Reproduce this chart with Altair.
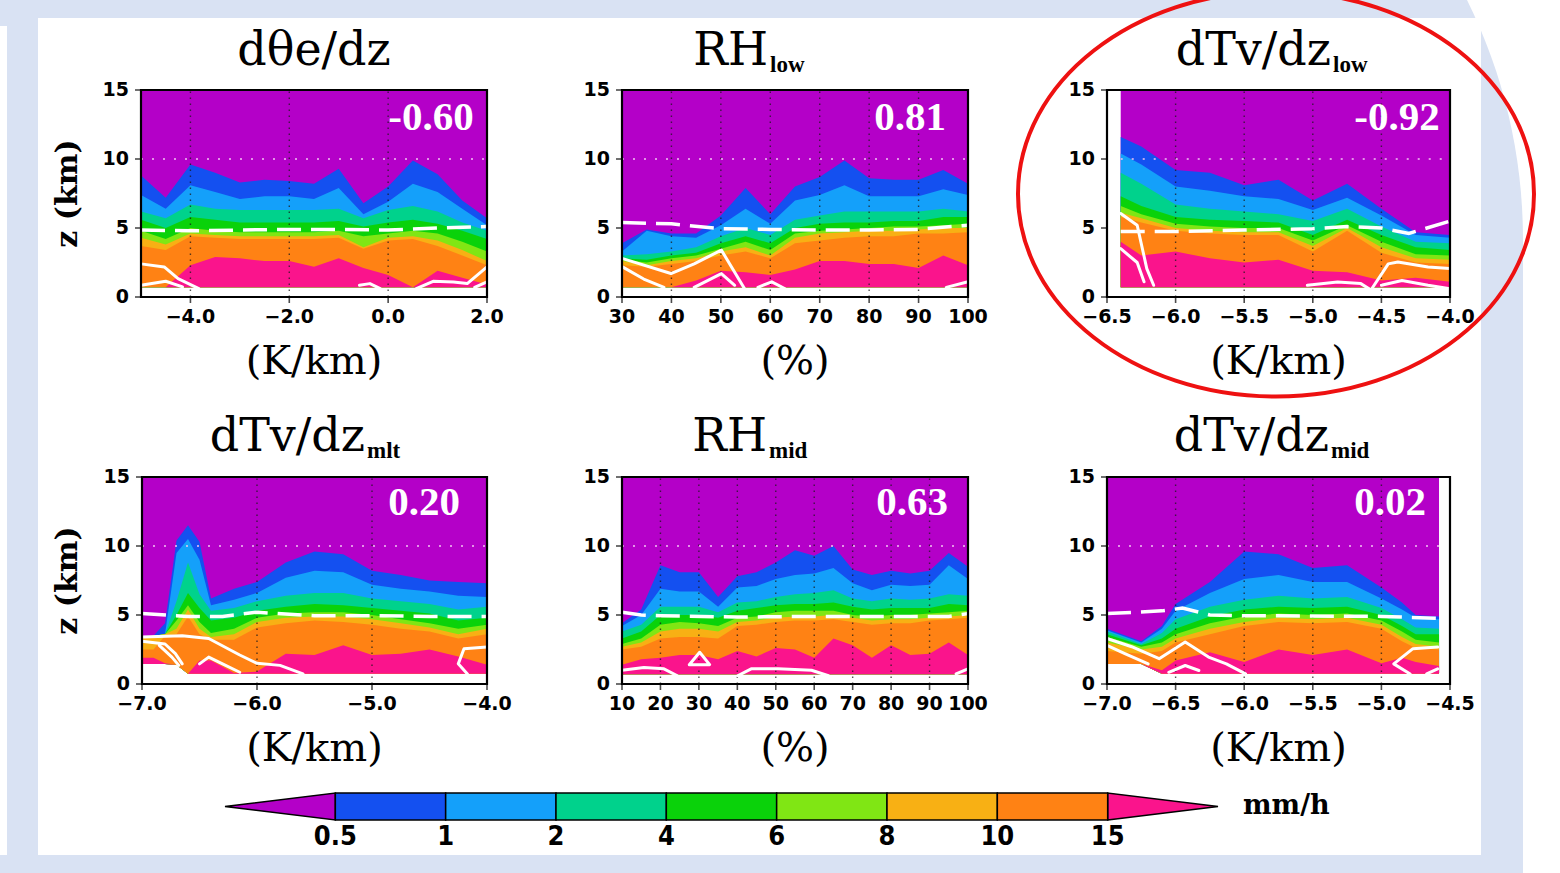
import altair as alt
import pandas as pd

W, H = 1560, 873
LIGHT = "#d9e2f3"
PURPLE = "#b400c8"
BAND_COLORS = ["#1450f0", "#14a0fa", "#00d28c", "#0ad20a", "#80e614", "#f8b014", "#ff8214", "#fa148c"]
LEVEL_KEYS = ["L05", "L1", "L2", "L4", "L6", "L8", "L10", "L15"]
CB_LABELS = ["0.5", "1", "2", "4", "6", "8", "10", "15"]
CB_INDEX = [0, 1, 2, 3, 4, 5, 6, 7]
Y_TICKS = [0, 5, 10, 15]
Y_LABELS = ["0", "5", "10", "15"]

# ---------------- panel 1 : dθe/dz ----------------
P1_X = [-5, -4.5, -4, -3.5, -3, -2.5, -2, -1.5, -1, -0.5, 0, 0.5, 1, 1.5, 2]
P1_BASE = [0.7, 0.7, 0.7, 0.7, 0.7, 0.7, 0.7, 0.7, 0.7, 0.7, 0.7, 0.7, 0.7, 0.7, 0.7]
P1_L05 = [8.8, 7.2, 9.6, 9.0, 8.3, 8.5, 8.4, 8.2, 9.3, 6.8, 8.0, 9.9, 8.9, 7.0, 5.7]
P1_L1 = [7.4, 6.4, 8.1, 7.6, 7.1, 7.3, 7.3, 7.1, 7.9, 6.0, 6.9, 8.2, 7.6, 6.4, 5.2]
P1_L2 = [6.2, 5.7, 6.7, 6.4, 6.3, 6.3, 6.3, 6.3, 6.4, 5.7, 6.3, 6.6, 6.2, 5.4, 4.8]
P1_L4 = [5.6, 5.0, 5.8, 5.6, 5.4, 5.4, 5.4, 5.4, 5.5, 5.1, 5.4, 5.6, 5.3, 4.8, 4.2]
P1_L6 = [4.8, 4.2, 5.0, 4.8, 4.7, 4.7, 4.7, 4.7, 4.8, 4.4, 4.6, 4.8, 4.6, 4.0, 3.3]
P1_L8 = [4.3, 3.8, 4.6, 4.5, 4.4, 4.4, 4.4, 4.4, 4.5, 3.6, 4.3, 4.4, 4.1, 3.4, 2.6]
P1_L10 = [3.7, 3.4, 4.4, 4.3, 4.2, 4.2, 4.2, 4.2, 4.3, 3.5, 4.1, 4.2, 3.7, 3.0, 2.3]
P1_L15 = [0.7, 0.7, 2.3, 2.9, 2.8, 2.6, 2.6, 2.2, 2.8, 2.1, 1.6, 0.7, 1.9, 1.4, 0.9]
P1_FX = [-5, -4, -3, -2, -1, 0, 1, 2]
P1_FZ = [4.85, 4.8, 4.85, 4.9, 4.9, 4.85, 5.0, 5.1]
P1_CONT = [
    [(-5, 2.4), (-4.53, 2.18), (-4.25, 1.33), (-3.83, 0.6)],
    [(-5, 0.85), (-4.5, 1.14), (-4.16, 0.73)],
    [(-0.58, 0.85), (-0.37, 0.97), (-0.16, 0.6)],
    [(0.57, 0.6), (0.91, 1.14), (1.32, 1.09), (1.6, 0.97), (2.0, 2.18)],
    [(1.75, 0.7), (2.0, 1.1)],
]
P1_XT = [-4, -2, 0, 2]
P1_XL = ["−4.0", "−2.0", "0.0", "2.0"]

# ---------------- panel 2 : RH low ----------------
P2_X = [30, 35, 40, 45, 50, 55, 60, 65, 70, 75, 80, 85, 90, 95, 100]
P2_BASE = [0.7, 0.7, 0.7, 0.7, 0.7, 0.7, 0.7, 0.7, 0.7, 0.7, 0.7, 0.7, 0.7, 0.7, 0.7]
P2_L05 = [3.9, 4.9, 4.6, 4.6, 5.9, 7.9, 6.0, 8.0, 8.7, 9.9, 8.6, 8.5, 8.5, 9.2, 8.2]
P2_L1 = [3.3, 4.8, 4.4, 4.3, 5.2, 6.4, 5.3, 7.0, 7.4, 8.1, 7.3, 7.3, 7.3, 7.8, 7.4]
P2_L2 = [3.0, 3.1, 3.3, 3.6, 4.4, 5.0, 4.5, 5.6, 5.9, 6.2, 6.2, 6.2, 6.2, 6.4, 6.2]
P2_L4 = [2.8, 2.7, 3.0, 3.2, 3.9, 4.4, 3.9, 5.0, 5.3, 5.4, 5.4, 5.5, 5.5, 5.8, 5.8]
P2_L6 = [2.7, 2.5, 2.8, 3.0, 3.5, 4.0, 3.4, 4.6, 4.8, 4.9, 5.0, 5.1, 5.1, 5.2, 5.3]
P2_L8 = [2.6, 2.3, 2.6, 2.8, 3.3, 3.6, 3.0, 4.3, 4.6, 4.7, 4.8, 4.8, 4.9, 5.0, 5.0]
P2_L10 = [2.3, 2.2, 2.4, 2.6, 3.0, 3.3, 2.8, 3.9, 4.1, 4.3, 4.4, 4.4, 4.6, 4.6, 4.7]
P2_L15 = [0.7, 0.7, 0.7, 1.2, 1.9, 1.8, 1.6, 2.0, 2.6, 2.6, 2.4, 2.4, 2.1, 3.0, 2.3]
P2_FX = [30, 40, 50, 60, 70, 80, 90, 100]
P2_FZ = [5.4, 5.3, 4.95, 4.9, 4.85, 4.85, 4.9, 5.2]
P2_CONT = [
    [(30, 2.8), (39.9, 1.7), (44.6, 2.4), (50.1, 3.4), (54.8, 0.6)],
    [(30, 2.2), (34.4, 1.3), (38.5, 0.7)],
    [(44.6, 0.7), (50.1, 1.7), (52.8, 0.85)],
    [(57.5, 0.7), (60.3, 1.1), (63, 0.6)],
    [(95.6, 0.7), (100, 1.1)],
]
P2_XT = [30, 40, 50, 60, 70, 80, 90, 100]
P2_XL = ["30", "40", "50", "60", "70", "80", "90", "100"]

# ---------------- panel 3 : dTv/dz low ----------------
P3_X = [-6.4, -6.25, -6.0, -5.75, -5.5, -5.25, -5.0, -4.75, -4.5, -4.25, -4.0]
P3_BASE = [0.7, 0.7, 0.7, 0.7, 0.7, 0.7, 0.7, 0.7, 0.7, 0.7, 0.7]
P3_L05 = [11.6, 10.9, 9.2, 9.0, 8.1, 8.5, 7.0, 8.2, 6.4, 4.7, 4.5]
P3_L1 = [10.4, 9.6, 8.0, 7.7, 7.3, 7.1, 6.3, 7.2, 5.9, 4.5, 4.3]
P3_L2 = [9.0, 8.2, 6.7, 6.4, 6.2, 6.0, 5.5, 6.4, 5.1, 4.0, 3.9]
P3_L4 = [7.3, 6.6, 5.8, 5.6, 5.5, 5.4, 4.5, 5.6, 4.5, 3.6, 3.4]
P3_L6 = [6.6, 6.0, 5.3, 5.1, 5.0, 5.0, 4.1, 5.2, 4.0, 3.1, 3.0]
P3_L8 = [6.1, 5.7, 5.0, 4.8, 4.7, 4.7, 3.7, 5.0, 3.6, 2.8, 2.7]
P3_L10 = [5.8, 5.4, 4.8, 4.6, 4.5, 4.5, 3.3, 4.8, 3.2, 2.5, 2.4]
P3_L15 = [4.0, 3.0, 3.3, 2.8, 2.5, 2.7, 1.9, 1.8, 1.2, 1.4, 1.1]
P3_FX = [-6.4, -6.0, -5.5, -5.0, -4.75, -4.5, -4.3, -4.0]
P3_FZ = [4.75, 4.75, 4.85, 4.95, 5.1, 5.0, 4.6, 5.5]
P3_CONT = [
    [(-6.4, 6.05), (-6.28, 5.2), (-6.21, 2.06), (-6.16, 0.85)],
    [(-6.4, 3.5), (-6.28, 2.5), (-6.23, 1.1)],
    [(-5.04, 0.85), (-4.82, 1.09), (-4.65, 0.97), (-4.59, 0.6)],
    [(-4.57, 0.6), (-4.45, 2.4), (-4.38, 2.54), (-4.16, 2.18), (-4.0, 2.06)],
    [(-4.5, 0.85), (-4.35, 1.2), (-4.16, 0.85), (-4.0, 0.6)],
]
P3_XT = [-6.5, -6.0, -5.5, -5.0, -4.5, -4.0]
P3_XL = ["−6.5", "−6.0", "−5.5", "−5.0", "−4.5", "−4.0"]

# ---------------- panel 4 : dTv/dz mlt ----------------
P4_X = [-7.0, -6.9, -6.8, -6.7, -6.6, -6.5, -6.4, -6.2, -6.0, -5.75, -5.5, -5.25, -5.0, -4.75, -4.5, -4.25, -4.0]
P4_BASE = [1.45, 1.45, 1.45, 1.4, 0.75, 0.75, 0.75, 0.75, 0.75, 0.75, 0.75, 0.75, 0.75, 0.75, 0.75, 0.75, 0.75]
P4_L05 = [3.4, 3.5, 4.4, 10.4, 11.5, 10.3, 6.2, 6.9, 7.4, 8.8, 9.6, 9.4, 8.2, 7.9, 7.5, 7.4, 7.3]
P4_L1 = [3.4, 3.5, 3.6, 9.5, 10.5, 9.0, 5.7, 6.1, 6.6, 7.7, 8.2, 8.1, 7.2, 6.9, 6.7, 6.4, 6.3]
P4_L2 = [3.4, 3.5, 3.6, 6.0, 8.8, 6.5, 5.3, 5.5, 6.0, 6.4, 6.6, 6.6, 6.2, 6.0, 5.8, 5.4, 5.6]
P4_L4 = [3.4, 3.5, 3.6, 5.0, 6.6, 5.5, 4.6, 4.8, 5.3, 5.6, 5.8, 5.7, 5.5, 5.3, 5.1, 4.6, 4.8]
P4_L6 = [3.4, 3.5, 3.6, 4.6, 5.7, 4.5, 3.7, 4.0, 4.8, 5.1, 5.2, 5.2, 5.0, 4.7, 4.4, 4.0, 4.3]
P4_L8 = [3.4, 3.5, 3.6, 4.0, 5.4, 4.0, 3.4, 3.6, 4.5, 4.8, 4.9, 4.9, 4.7, 4.4, 4.1, 3.6, 4.0]
P4_L10 = [2.5, 2.5, 3.5, 3.6, 4.9, 3.6, 3.2, 3.2, 4.1, 4.4, 4.6, 4.5, 4.3, 4.0, 3.8, 3.3, 3.6]
P4_L15 = [1.9, 1.9, 1.5, 1.4, 0.75, 1.7, 1.7, 0.8, 0.9, 2.2, 2.1, 2.8, 2.1, 2.2, 2.5, 2.0, 1.4]
P4_FX = [-7, -6.6, -6.3, -6.0, -5.5, -5.0, -4.5, -4.0]
P4_FZ = [5.1, 4.9, 4.9, 5.2, 4.95, 4.95, 4.9, 4.9]
P4_CONT = [
    [(-7, 3.4), (-6.65, 3.5), (-6.42, 3.3), (-6.15, 2.1), (-6.0, 1.5), (-5.8, 1.35), (-5.6, 0.73)],
    [(-7, 3.1), (-6.8, 2.9), (-6.71, 2.2), (-6.65, 1.46)],
    [(-6.85, 2.8), (-6.74, 1.95), (-6.68, 1.35)],
    [(-6.5, 1.46), (-6.42, 1.95), (-6.3, 1.46), (-6.15, 0.85)],
    [(-4.0, 2.68), (-4.2, 2.56), (-4.25, 1.46), (-4.17, 0.73)],
]
P4_XT = [-7, -6, -5, -4]
P4_XL = ["−7.0", "−6.0", "−5.0", "−4.0"]

# ---------------- panel 5 : RH mid ----------------
P5_X = [10, 15, 20, 25, 30, 35, 40, 45, 50, 55, 60, 65, 70, 75, 80, 85, 90, 95, 100]
P5_BASE = [0.7, 0.7, 0.7, 0.7, 0.7, 0.7, 0.7, 0.7, 0.7, 0.7, 0.7, 0.7, 0.7, 0.7, 0.7, 0.7, 0.7, 0.7, 0.7]
P5_L05 = [4.4, 5.4, 8.6, 8.1, 8.1, 6.3, 7.8, 8.1, 8.8, 9.7, 9.3, 10.0, 8.3, 7.9, 8.2, 8.0, 8.2, 9.5, 8.5]
P5_L1 = [4.2, 5.0, 6.9, 6.7, 6.7, 5.6, 7.0, 7.1, 7.6, 7.9, 8.0, 8.4, 7.3, 6.8, 7.2, 7.1, 7.2, 8.6, 7.6]
P5_L2 = [3.8, 4.3, 5.6, 5.6, 5.6, 5.2, 5.9, 6.0, 6.3, 6.5, 6.6, 6.8, 6.2, 6.0, 6.2, 6.1, 6.2, 6.5, 6.4]
P5_L4 = [3.3, 3.8, 5.0, 5.0, 5.0, 4.8, 5.3, 5.5, 5.7, 5.8, 5.8, 5.9, 5.6, 5.4, 5.5, 5.5, 5.5, 5.8, 5.7]
P5_L6 = [2.9, 3.3, 4.3, 4.5, 4.4, 4.2, 4.8, 4.9, 5.2, 5.3, 5.3, 5.3, 5.0, 4.9, 5.0, 5.0, 5.1, 5.2, 5.3]
P5_L8 = [2.7, 3.0, 3.8, 4.0, 4.0, 3.8, 4.5, 4.6, 4.8, 4.9, 4.9, 5.0, 4.8, 4.6, 4.7, 4.7, 4.8, 4.9, 5.0]
P5_L10 = [2.5, 2.7, 3.3, 3.4, 3.4, 3.3, 4.2, 4.3, 4.5, 4.6, 4.6, 4.7, 4.5, 4.3, 4.4, 4.4, 4.6, 4.7, 4.8]
P5_L15 = [1.4, 1.8, 1.9, 2.1, 2.1, 1.8, 2.4, 2.0, 2.6, 2.5, 1.9, 3.3, 2.8, 1.9, 2.8, 2.1, 2.2, 3.0, 2.1]
P5_FX = [10, 15, 20, 40, 60, 80, 95, 100]
P5_FZ = [5.2, 5.0, 4.95, 4.85, 4.9, 4.9, 4.9, 5.1]
P5_CONT = [
    [(10, 1.0), (15.7, 1.2), (20.9, 1.1), (24.4, 0.6)],
    [(27.5, 1.4), (30.2, 2.3), (32.8, 1.4), (27.5, 1.4)],
    [(40.1, 0.6), (43.6, 1.1), (50.6, 1.1), (59.3, 1.0), (63.7, 0.6)],
    [(96.9, 0.73), (100, 1.1)],
]
P5_XT = [10, 20, 30, 40, 50, 60, 70, 80, 90, 100]
P5_XL = ["10", "20", "30", "40", "50", "60", "70", "80", "90", "100"]

# ---------------- panel 6 : dTv/dz mid ----------------
P6_X = [-7.0, -6.75, -6.6, -6.5, -6.25, -6.0, -5.75, -5.5, -5.25, -5.0, -4.85, -4.75, -4.58]
P6_BASE = [1.45, 1.45, 0.75, 0.75, 0.75, 0.75, 0.75, 0.75, 0.75, 0.75, 0.75, 0.75, 0.75]
P6_L05 = [4.0, 3.1, 4.2, 5.8, 7.4, 9.6, 9.4, 8.4, 8.6, 7.0, 5.9, 5.0, 4.9]
P6_L1 = [3.9, 3.0, 4.0, 5.3, 6.6, 7.6, 7.9, 7.4, 7.4, 6.2, 5.4, 4.8, 4.7]
P6_L2 = [3.8, 2.9, 3.7, 4.7, 5.6, 6.1, 6.4, 6.2, 6.3, 5.5, 4.7, 4.1, 4.0]
P6_L4 = [3.6, 2.8, 3.3, 4.0, 4.9, 5.4, 5.6, 5.5, 5.6, 5.0, 4.2, 3.6, 3.6]
P6_L6 = [3.4, 2.7, 3.0, 3.6, 4.4, 4.9, 5.1, 5.0, 5.1, 4.6, 3.8, 3.2, 3.0]
P6_L8 = [3.0, 2.5, 2.7, 3.3, 4.0, 4.5, 4.8, 4.7, 4.8, 4.3, 3.4, 2.9, 2.7]
P6_L10 = [2.4, 2.2, 2.4, 3.0, 3.6, 4.2, 4.5, 4.4, 4.5, 4.0, 3.1, 2.6, 2.5]
P6_L15 = [1.45, 1.45, 1.0, 1.7, 2.3, 1.6, 2.5, 2.1, 2.5, 1.5, 1.9, 1.6, 1.3]
P6_FX = [-7.0, -6.6, -6.45, -6.25, -6.0, -5.0, -4.58]
P6_FZ = [5.1, 5.3, 5.5, 5.0, 4.95, 4.9, 4.75]
P6_CONT = [
    [(-7, 3.3), (-6.82, 2.7), (-6.62, 1.83), (-6.43, 3.05), (-6.26, 1.95), (-6.13, 1.46), (-5.99, 0.73)],
    [(-7, 2.8), (-6.87, 2.2), (-6.7, 1.46)],
    [(-6.55, 0.85), (-6.43, 1.34), (-6.33, 0.98)],
    [(-4.59, 2.68), (-4.77, 2.56), (-4.91, 1.46), (-4.79, 0.73)],
    [(-4.67, 0.73), (-4.59, 1.1)],
]
P6_XT = [-7.0, -6.5, -6.0, -5.5, -5.0, -4.5]
P6_XL = ["−7.0", "−6.5", "−6.0", "−5.5", "−5.0", "−4.5"]

PANELS = [
    dict(x=P1_X, base=P1_BASE, lev=[P1_L05, P1_L1, P1_L2, P1_L4, P1_L6, P1_L8, P1_L10, P1_L15],
         fx=P1_FX, fz=P1_FZ, cont=P1_CONT, xdom=[-5, 2], xr=[141, 487], yr=[297, 90],
         xt=P1_XT, xl=P1_XL, grid=[-4, -2, 0], xtitle="(K/km)", ytitle="z (km)",
         title="dθe/dz", sub="", corr="-0.60"),
    dict(x=P2_X, base=P2_BASE, lev=[P2_L05, P2_L1, P2_L2, P2_L4, P2_L6, P2_L8, P2_L10, P2_L15],
         fx=P2_FX, fz=P2_FZ, cont=P2_CONT, xdom=[30, 100], xr=[622, 968], yr=[297, 90],
         xt=P2_XT, xl=P2_XL, grid=[40, 50, 60, 70, 80, 90], xtitle="(%)", ytitle="",
         title="RH", sub="low", corr="0.81"),
    dict(x=P3_X, base=P3_BASE, lev=[P3_L05, P3_L1, P3_L2, P3_L4, P3_L6, P3_L8, P3_L10, P3_L15],
         fx=P3_FX, fz=P3_FZ, cont=P3_CONT, xdom=[-6.5, -4.0], xr=[1107, 1450], yr=[297, 90],
         xt=P3_XT, xl=P3_XL, grid=[-6.0, -5.5, -5.0, -4.5], xtitle="(K/km)", ytitle="",
         title="dTv/dz", sub="low", corr="-0.92"),
    dict(x=P4_X, base=P4_BASE, lev=[P4_L05, P4_L1, P4_L2, P4_L4, P4_L6, P4_L8, P4_L10, P4_L15],
         fx=P4_FX, fz=P4_FZ, cont=P4_CONT, xdom=[-7, -4], xr=[142, 487], yr=[684, 477],
         xt=P4_XT, xl=P4_XL, grid=[-6, -5], xtitle="(K/km)", ytitle="z (km)",
         title="dTv/dz", sub="mlt", corr="0.20"),
    dict(x=P5_X, base=P5_BASE, lev=[P5_L05, P5_L1, P5_L2, P5_L4, P5_L6, P5_L8, P5_L10, P5_L15],
         fx=P5_FX, fz=P5_FZ, cont=P5_CONT, xdom=[10, 100], xr=[622, 968], yr=[684, 477],
         xt=P5_XT, xl=P5_XL, grid=[20, 30, 40, 50, 60, 70, 80, 90], xtitle="(%)", ytitle="",
         title="RH", sub="mid", corr="0.63"),
    dict(x=P6_X, base=P6_BASE, lev=[P6_L05, P6_L1, P6_L2, P6_L4, P6_L6, P6_L8, P6_L10, P6_L15],
         fx=P6_FX, fz=P6_FZ, cont=P6_CONT, xdom=[-7, -4.5], xr=[1107, 1450], yr=[684, 477],
         xt=P6_XT, xl=P6_XL, grid=[-6.5, -6.0, -5.5, -5.0], xtitle="(K/km)", ytitle="",
         title="dTv/dz", sub="mid", corr="0.02"),
]

# text placement (layout only)
TITLE_POS = [(314, 65, 0), (770, 65, 72), (1333, 65, 72), (367, 451, 458), (769, 451, 458), (1331, 451, 458)]
CORR_POS = [(431, 130), (910, 130), (1397, 130), (424, 515), (912, 515), (1390, 515)]

ONE = pd.DataFrame({"k": [0]})
LABEL_FONT = "DejaVu Sans"
SERIF = "DejaVu Serif"


def build_panel(i, p):
    xs = alt.Scale(domain=p["xdom"], range=p["xr"], nice=False, zero=False)
    ys = alt.Scale(domain=[0, 15], range=p["yr"], nice=False, zero=False)
    d = {"x": p["x"], "base": p["base"]}
    for k, arr in zip(LEVEL_KEYS, p["lev"]):
        d[k] = arr
    df = pd.DataFrame(d)

    def X(field=None, datum=None):
        if field is not None:
            return alt.X(field, scale=xs, axis=None)
        return alt.X(datum=datum, scale=xs, axis=None)

    def Y(field=None, datum=None):
        if field is not None:
            return alt.Y(field, scale=ys, axis=None)
        return alt.Y(datum=datum, scale=ys, axis=None)

    layers = [alt.Chart(df).mark_area(color=PURPLE).encode(x=X("x:Q"), y=Y("base:Q"), y2=alt.Y2(datum=15))]
    for k, c in zip(LEVEL_KEYS, BAND_COLORS):
        layers.append(alt.Chart(df).mark_area(color=c).encode(x=X("x:Q"), y=Y("base:Q"), y2=alt.Y2(f"{k}:Q")))
    # dotted grid
    gdf = pd.DataFrame({"g": p["grid"]})
    layers.append(alt.Chart(gdf).mark_rule(color="#1a1a1a", strokeWidth=1.4, strokeDash=[1.5, 4.5], opacity=0.75).encode(
        x=X("g:Q"), y=Y(datum=0), y2=alt.Y2(datum=15)))
    layers.append(alt.Chart(ONE).mark_rule(color="#f2c4f2", strokeWidth=1.6, strokeDash=[2, 9]).encode(
        x=X(datum=p["x"][0]), x2=alt.X2(datum=p["x"][-1]), y=Y(datum=10)))
    # white contours
    rows = []
    for s, seg in enumerate(p["cont"]):
        for o, (cx, cz) in enumerate(seg):
            rows.append({"x": cx, "z": cz, "s": s, "o": o})
    layers.append(alt.Chart(pd.DataFrame(rows)).mark_line(color="white", strokeWidth=3, strokeJoin="round", strokeCap="round").encode(
        x=X("x:Q"), y=Y("z:Q"), detail="s:N", order="o:Q"))
    # dashed freezing level
    fdf = pd.DataFrame({"x": p["fx"], "z": p["fz"]})
    layers.append(alt.Chart(fdf).mark_line(color="white", strokeWidth=3.5, strokeDash=[24, 10]).encode(
        x=X("x:Q"), y=Y("z:Q")))
    # frame
    layers.append(alt.Chart(ONE).mark_rect(filled=False, stroke="black", strokeWidth=2.2).encode(
        x=X(datum=p["xdom"][0]), x2=alt.X2(datum=p["xdom"][1]), y=Y(datum=0), y2=alt.Y2(datum=15)))
    # ticks and tick labels
    xt_df = pd.DataFrame({"v": p["xt"], "t": p["xl"]})
    yt_df = pd.DataFrame({"v": Y_TICKS, "t": Y_LABELS})
    layers.append(alt.Chart(xt_df).mark_tick(orient="vertical", size=6, thickness=1.6, color="black", yOffset=3).encode(
        x=X("v:Q"), y=Y(datum=0)))
    layers.append(alt.Chart(yt_df).mark_tick(orient="horizontal", size=6, thickness=1.6, color="black", xOffset=-3).encode(
        x=X(datum=p["xdom"][0]), y=Y("v:Q")))
    layers.append(alt.Chart(xt_df).mark_text(font=LABEL_FONT, fontWeight="bold", fontSize=19, color="black",
                                             baseline="middle", align="center", dy=20).encode(
        x=X("v:Q"), y=Y(datum=0), text="t:N"))
    layers.append(alt.Chart(yt_df).mark_text(font=LABEL_FONT, fontWeight="bold", fontSize=19, color="black",
                                             baseline="middle", align="right", dx=-12).encode(
        x=X(datum=p["xdom"][0]), y=Y("v:Q"), text="t:N"))
    # axis titles
    layers.append(alt.Chart(ONE).mark_text(text=p["xtitle"], font=SERIF, fontSize=40, color="black",
                                           baseline="middle", align="center", dy=65).encode(
        x=X(datum=(p["xdom"][0] + p["xdom"][1]) / 2), y=Y(datum=0)))
    if p["ytitle"]:
        layers.append(alt.Chart(ONE).mark_text(text=p["ytitle"], font=SERIF, fontWeight="bold", fontSize=30,
                                               color="black", baseline="middle", align="center", angle=270).encode(
            x=alt.value(68), y=Y(datum=7.5)))
    # correlation
    cx, cy = CORR_POS[i]
    layers.append(alt.Chart(ONE).mark_text(text=p["corr"], font="Liberation Serif", fontWeight="bold",
                                           fontSize=41, color="white", align="center", baseline="alphabetic").encode(
        x=alt.value(cx), y=alt.value(cy)))
    # title
    tx, ty, sy = TITLE_POS[i]
    if p["sub"]:
        layers.append(alt.Chart(ONE).mark_text(text=p["title"], font=SERIF, fontSize=46,
                                               color="black", align="right", baseline="alphabetic").encode(
            x=alt.value(tx - 2), y=alt.value(ty)))
        layers.append(alt.Chart(ONE).mark_text(text=p["sub"], font="Liberation Serif", fontWeight="bold", fontSize=23,
                                               color="black", align="left", baseline="alphabetic").encode(
            x=alt.value(tx), y=alt.value(sy)))
    else:
        layers.append(alt.Chart(ONE).mark_text(text=p["title"], font=SERIF, fontSize=46,
                                               color="black", align="center", baseline="alphabetic").encode(
            x=alt.value(tx), y=alt.value(ty)))
    return alt.layer(*layers)


# ---------------- decoration ----------------
decor = [
    alt.Chart(ONE).mark_rect(color="white").encode(
        x=alt.value(1400), x2=alt.value(1560), y=alt.value(0), y2=alt.value(873)),
    alt.Chart(ONE).mark_rect(color=LIGHT, cornerRadiusTopRight=542).encode(
        x=alt.value(400), x2=alt.value(1523), y=alt.value(-302), y2=alt.value(873)),
    alt.Chart(ONE).mark_rect(color="white").encode(
        x=alt.value(38), x2=alt.value(1481), y=alt.value(18), y2=alt.value(855)),
    alt.Chart(ONE).mark_rect(color="white").encode(
        x=alt.value(0), x2=alt.value(7), y=alt.value(26), y2=alt.value(855)),
]

# ---------------- colour bar ----------------
cbx = alt.Scale(domain=[-1, 8], range=[225, 1218], nice=False, zero=False)
cby = alt.Scale(domain=[0, 1], range=[820, 793], nice=False, zero=False)
seg_df = pd.DataFrame({"lo": CB_INDEX[:-1], "hi": CB_INDEX[1:], "c": BAND_COLORS[:7]})
tri_l = pd.DataFrame({"x": [-1, 0], "y": [0.5, 0], "y2": [0.5, 1]})
tri_r = pd.DataFrame({"x": [7, 8], "y": [0, 0.5], "y2": [1, 0.5]})
lab_df = pd.DataFrame({"i": CB_INDEX, "t": CB_LABELS})

cbar = alt.layer(
    alt.Chart(tri_l).mark_area(color=PURPLE, stroke="black", strokeWidth=1.5).encode(
        x=alt.X("x:Q", scale=cbx, axis=None), y=alt.Y("y:Q", scale=cby, axis=None), y2="y2:Q"),
    alt.Chart(tri_r).mark_area(color=BAND_COLORS[7], stroke="black", strokeWidth=1.5).encode(
        x=alt.X("x:Q", scale=cbx, axis=None), y=alt.Y("y:Q", scale=cby, axis=None), y2="y2:Q"),
    alt.Chart(seg_df).mark_rect(stroke="black", strokeWidth=1.5).encode(
        x=alt.X("lo:Q", scale=cbx, axis=None), x2="hi:Q",
        y=alt.Y(datum=0, scale=cby, axis=None), y2=alt.Y2(datum=1),
        color=alt.Color("c:N", scale=None)),
    alt.Chart(lab_df).mark_text(font="Liberation Sans Narrow, DejaVu Sans Condensed, Liberation Sans",
                                fontWeight="bold", fontSize=27, color="black", baseline="middle").encode(
        x=alt.X("i:Q", scale=cbx, axis=None), y=alt.Y(datum=-0.62, scale=cby, axis=None), text="t:N"),
    alt.Chart(ONE).mark_text(text="mm/h", font=SERIF, fontWeight="bold", fontSize=27, color="black",
                             align="left", baseline="middle").encode(x=alt.value(1243), y=alt.value(806)),
)

ELLIPSE = "M1,0C1,0.4336,0.5523,0.785,0,0.785C-0.5523,0.785,-1,0.4336,-1,0C-1,-0.4336,-0.5523,-0.785,0,-0.785C0.5523,-0.785,1,-0.4336,1,0Z"
ellipse = alt.Chart(ONE).mark_point(shape=ELLIPSE, size=266256, filled=False, stroke="#ee1111",
                                    strokeWidth=4, opacity=1).encode(x=alt.value(1276), y=alt.value(194))

panels = [build_panel(i, p) for i, p in enumerate(PANELS)]

chart = alt.layer(*decor, *panels, cbar, ellipse).resolve_scale(
    x="independent", y="independent"
).properties(
    width=W, height=H, autosize=alt.AutoSizeParams(type="none"), padding=0, background=LIGHT
).configure_view(stroke=None)

chart.save("out.html", embed_options={"renderer": "svg", "actions": False})
